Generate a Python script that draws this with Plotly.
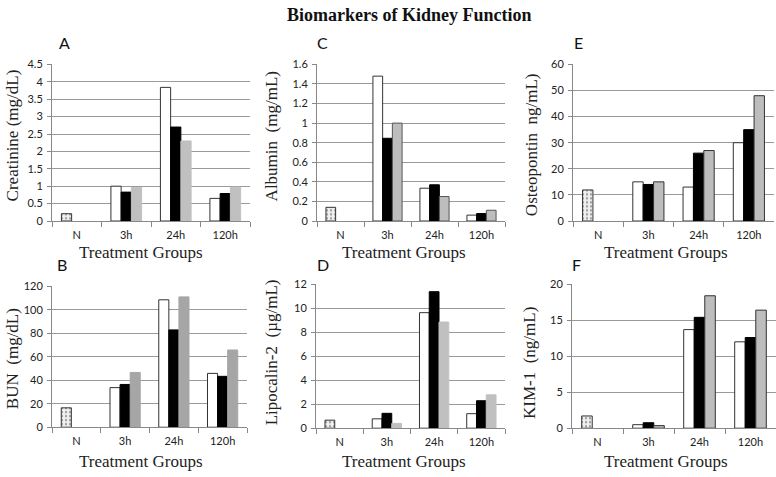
import plotly.graph_objects as go

W, H = 776, 477

groups = ["N", "3h", "24h", "120h"]

# Panel data: first series includes the N (control) value
creat_s1 = [0.21, 1.0, 3.84, 0.65]
creat_s2 = [None, 0.83, 2.70, 0.79]
creat_s3 = [None, 0.96, 2.30, 0.97]

alb_s1 = [0.14, 1.48, 0.335, 0.06]
alb_s2 = [None, 0.845, 0.37, 0.076]
alb_s3 = [None, 1.0, 0.25, 0.11]

opn_s1 = [11.9, 15, 13, 30]
opn_s2 = [None, 14, 26, 35]
opn_s3 = [None, 15, 27, 48]

bun_s1 = [16.5, 33.7, 108.4, 45.8]
bun_s2 = [None, 36.4, 82.8, 43.3]
bun_s3 = [None, 46.6, 110.9, 65.7]

lcn_s1 = [0.67, 0.78, 9.63, 1.21]
lcn_s2 = [None, 1.24, 11.38, 2.29]
lcn_s3 = [None, 0.40, 8.85, 2.78]

kim_s1 = [1.7, 0.49, 13.7, 12.0]
kim_s2 = [None, 0.76, 15.4, 12.6]
kim_s3 = [None, 0.36, 18.4, 16.4]

panels = [
    dict(letter="A", ytitle="Creatinine (mg/dL)", s=(creat_s1, creat_s2, creat_s3),
         yr=4.5, dt=0.5, xd=(52, 250), yd=(59, 220), gray="#c0c0c0", gline="#c0c0c0",
         yt=(12, 132), xt=(141, 252), lt=(57, 37)),
    dict(letter="C", ytitle="Albumin  (mg/mL)", s=(alb_s1, alb_s2, alb_s3),
         yr=1.6, dt=0.2, xd=(317, 505), yd=(59, 220), gray="#bdbdbd", gline="#555555",
         yt=(271, 133), xt=(404, 252), lt=(315, 37)),
    dict(letter="E", ytitle="Osteopontin  ng/mL)", s=(opn_s1, opn_s2, opn_s3),
         yr=60, dt=10, xd=(573, 774), yd=(59, 220), gray="#bdbdbd", gline="#333333",
         yt=(531, 142), xt=(666, 252), lt=(572, 37)),
    dict(letter="B", ytitle="BUN  (mg/dL)", s=(bun_s1, bun_s2, bun_s3),
         yr=120, dt=20, xd=(52, 247), yd=(287, 432), gray="#a6a6a6", gline="#a6a6a6",
         yt=(12, 362), xt=(141, 467), lt=(55, 265)),
    dict(letter="D", ytitle="Lipocalin-2  (µg/mL)", s=(lcn_s1, lcn_s2, lcn_s3),
         yr=12, dt=2, xd=(316, 505), yd=(285, 433), gray="#c0c0c0", gline="#c0c0c0",
         yt=(271, 355), xt=(404, 467), lt=(315, 265)),
    dict(letter="F", ytitle="KIM-1  (ng/mL)", s=(kim_s1, kim_s2, kim_s3),
         yr=20, dt=5, xd=(572, 776), yd=(285, 433), gray="#bdbdbd", gline="#333333",
         yt=(529, 366), xt=(666, 467), lt=(570, 265)),
]

fig = go.Figure()
annotations = []
layout = {}

serif = "Liberation Serif, Times New Roman, serif"
sans = "Lato, Carlito, Liberation Sans, sans-serif"

for i, p in enumerate(panels):
    n = "" if i == 0 else str(i + 1)
    xa, ya = "x" + n, "y" + n
    s1, s2, s3 = p["s"]
    fig.add_trace(go.Bar(
        x=groups, y=s1, xaxis=xa, yaxis=ya, showlegend=False,
        marker=dict(color=["#f0f0f0", "white", "white", "white"],
                    line=dict(color="#333333", width=1),
                    pattern=dict(shape=[".", "", "", ""], fgcolor="#d4d4d4",
                                 bgcolor="#f1f1f1", size=4, solidity=0.25))))
    fig.add_trace(go.Bar(
        x=groups, y=s2, xaxis=xa, yaxis=ya, showlegend=False,
        marker=dict(color="black", line=dict(color="black", width=1))))
    fig.add_trace(go.Bar(
        x=groups, y=s3, xaxis=xa, yaxis=ya, showlegend=False,
        marker=dict(color=p["gray"], line=dict(color=p["gline"], width=1))))

    x0, x1 = p["xd"]
    yt, yb = p["yd"]
    layout["xaxis" + n] = dict(
        domain=[x0 / W, x1 / W], anchor=ya, type="category",
        showline=True, linecolor="#888888", linewidth=1,
        ticks="outside", tickson="boundaries", ticklen=5, tickcolor="#888888",
        tickfont=dict(family=sans, size=11, color="#222222"),
        ticklabelstandoff=4, showgrid=False, fixedrange=True)
    layout["yaxis" + n] = dict(
        domain=[1 - yb / H, 1 - yt / H], anchor=xa,
        range=[0, p["yr"]], dtick=p["dt"], tick0=0,
        showline=True, linecolor="#888888", linewidth=1,
        ticks="outside", ticklen=4, tickcolor="#888888",
        tickfont=dict(family=sans, size=11, color="#222222"),
        ticklabelstandoff=2,
        showgrid=True, gridcolor="#9a9a9a", gridwidth=1,
        zeroline=False, fixedrange=True)

    annotations.append(dict(
        text=p["ytitle"], xref="paper", yref="paper",
        x=p["yt"][0] / W, y=1 - p["yt"][1] / H, textangle=-90,
        showarrow=False, xanchor="center", yanchor="middle",
        font=dict(family=serif, size=17, color="#222222")))
    annotations.append(dict(
        text="Treatment Groups", xref="paper", yref="paper",
        x=p["xt"][0] / W, y=1 - p["xt"][1] / H,
        showarrow=False, xanchor="center", yanchor="middle",
        font=dict(family=serif, size=17, color="#222222")))
    annotations.append(dict(
        text=p["letter"], xref="paper", yref="paper",
        x=p["lt"][0] / W, y=1 - p["lt"][1] / H,
        showarrow=False, xanchor="left", yanchor="middle",
        font=dict(family=sans, size=16, color="#111111")))

annotations.append(dict(
    text="<b>Biomarkers of Kidney Function</b>", xref="paper", yref="paper",
    x=409 / W, y=1 - 8 / H, showarrow=False, xanchor="center", yanchor="middle",
    font=dict(family=serif, size=18, color="#111111")))

fig.update_layout(
    width=W, height=H, margin=dict(l=0, r=0, t=0, b=0),
    paper_bgcolor="white", plot_bgcolor="white",
    barmode="group", bargap=0.38, bargroupgap=0,
    annotations=annotations, **layout)

fig.write_html("out.html", config={"displayModeBar": False},
               post_script="document.body.style.margin='0';document.body.style.overflow='hidden';")
